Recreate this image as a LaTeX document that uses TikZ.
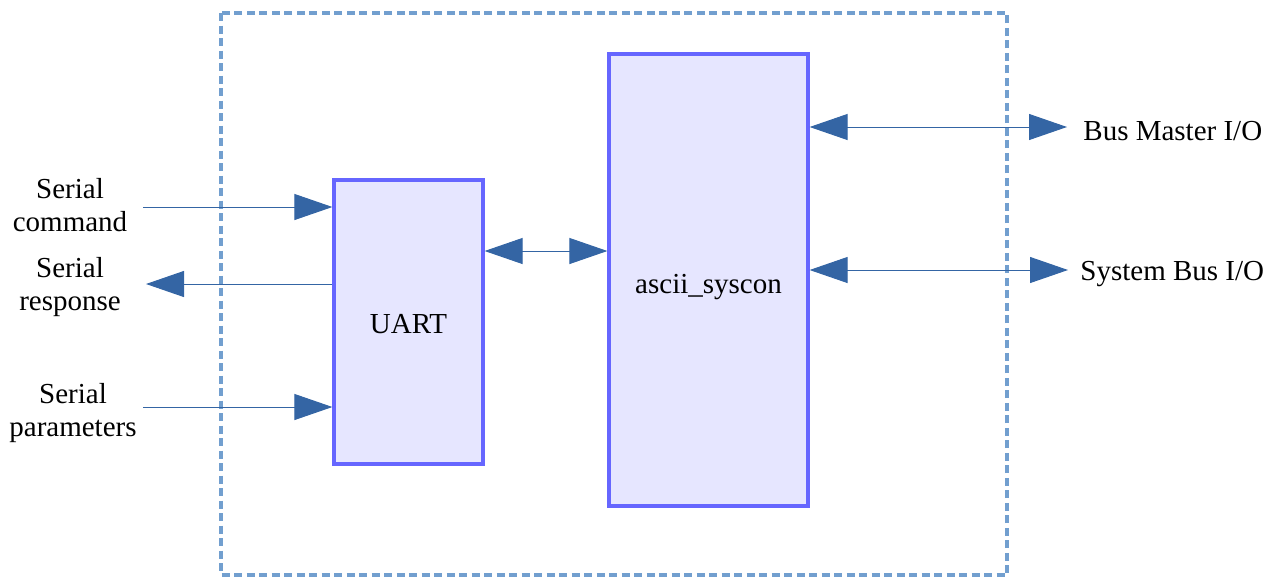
\documentclass[tikz,border=0pt]{standalone}
\usepackage{fontspec}
\setmainfont{Liberation Serif}
\usetikzlibrary{arrows.meta}
\definecolor{dashblue}{HTML}{729FCF}
\definecolor{boxline}{HTML}{6666FF}
\definecolor{boxfill}{HTML}{E6E6FF}
\definecolor{arrblue}{HTML}{3465A4}
\tikzset{
  blockbox/.style={draw=boxline, fill=boxfill, line width=1.6pt, inner sep=0pt, rectangle},
  lbl/.style={font=\fontsize{14.5}{16.5}\selectfont, align=center, inner sep=0pt},
  conn/.style={draw=arrblue, line width=0.5pt},
  tip/.style={-{Triangle[length=19pt,width=13pt]}},
  tips/.style={{Triangle[length=19pt,width=13pt]}-{Triangle[length=19pt,width=13pt]}},
}
\begin{document}
\begin{tikzpicture}[x=0.5pt,y=-0.5pt]
\useasboundingbox (0,0) rectangle (1278,579);
% outer dashed frame
\draw[dashblue, line width=2pt, dash pattern=on 4pt off 2.25pt] (221,13) rectangle (1007,575);
% blocks
\node[blockbox, minimum width=74.5pt, minimum height=142pt] (uart) at (408.5,322) {};
\node[lbl] at ([yshift=-1pt]uart.center) {UART};
\node[blockbox, minimum width=99.5pt, minimum height=226pt] (sys) at (708.5,280) {};
\node[lbl] at ([yshift=-3.5pt]sys.center) {ascii\_syscon};
% labels
\node[lbl] (lcmd) at (70,205.5) {Serial\\command};
\node[lbl] (lresp) at (70,287.5) {Serial\\response};
\node[lbl] (lpar) at (73,413) {Serial\\parameters};
\node[lbl, anchor=west] (lbm) at (1083,131) {Bus Master I/O};
\node[lbl, anchor=west] (lsb) at (1080,274) {System Bus I/O};
% free ends
\coordinate (cmdS) at (143,207);
\coordinate (respE) at (146,284);
\coordinate (parS) at (143,407);
\coordinate (bmE) at (1067,127);
\coordinate (sbE) at (1068,270);
% connectors
\draw[conn, tip] (cmdS) -- (uart.west |- cmdS);
\draw[conn, tip] (uart.west |- respE) -- (respE);
\draw[conn, tip] (parS) -- (uart.west |- parS);
\draw[conn, tips] (uart.east |- 0,251) -- (sys.west |- 0,251);
\draw[conn, tips] (sys.east |- bmE) -- (bmE);
\draw[conn, tips] (sys.east |- sbE) -- (sbE);
\end{tikzpicture}
\end{document}
